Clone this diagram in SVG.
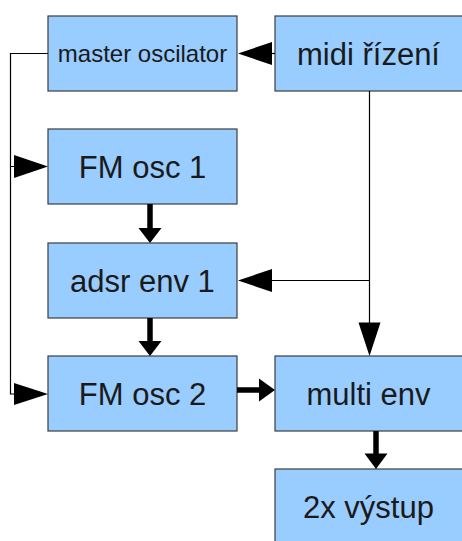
<svg xmlns="http://www.w3.org/2000/svg" width="462" height="541" viewBox="0 0 462 541">
<style>
.box{fill:#99ccff;stroke:#3c3c3c;stroke-width:1.2}
.t{font-family:"Liberation Sans",Arial,sans-serif;font-size:31px;fill:#1a1a1a;text-anchor:middle}
.ts{font-size:24px}
.thin{stroke:#000;stroke-width:1.2;fill:none}
.thick{stroke:#000;stroke-width:5.5;fill:none}
.ah{fill:#000}
</style>
<rect width="462" height="541" fill="#fff"/>
<g id="master"><rect class="box" x="48" y="16" width="189" height="75"/><text class="t ts" x="142.5" y="62">master oscilator</text></g>
<g id="midi"><rect class="box" x="275" y="16" width="190" height="75"/><text class="t" x="368.5" y="65">midi řízení</text></g>
<g id="fm1"><rect class="box" x="48" y="129" width="189" height="75"/><text class="t" x="142.5" y="177.5">FM osc 1</text></g>
<g id="adsr"><rect class="box" x="48" y="243" width="189" height="75"/><text class="t" x="142.5" y="291.5">adsr env 1</text></g>
<g id="fm2"><rect class="box" x="48" y="356" width="189" height="75"/><text class="t" x="142.5" y="404.5">FM osc 2</text></g>
<g id="multi"><rect class="box" x="275" y="356" width="190" height="75"/><text class="t" x="368.5" y="404.5">multi env</text></g>
<g id="out"><rect class="box" x="275" y="469" width="190" height="75"/><text class="t" x="368.5" y="517.5">2x výstup</text></g>
<g id="connectors">
<path class="thin" d="M275 53.5H271"/>
<polygon class="ah" points="238,53.5 272,42 272,65"/>
<path class="thin" d="M48 53.5H10.5V394H14M10.5 166.5H14"/>
<polygon class="ah" points="48,166.5 14,155 14,178"/>
<polygon class="ah" points="48,394 14,383 14,405"/>
<path class="thin" d="M369.5 91V323M369.5 280.5H271"/>
<polygon class="ah" points="238,280.5 272,269 272,292"/>
<polygon class="ah" points="369.5,356 358.5,322.5 380.5,322.5"/>
<path class="thick" d="M150 204V229"/>
<polygon class="ah" points="150,243 138.5,228 161.5,228"/>
<path class="thick" d="M150 318V342"/>
<polygon class="ah" points="150,356 138.5,341 161.5,341"/>
<path class="thick" d="M237 390H260"/>
<polygon class="ah" points="275,390 259,378.5 259,401.5"/>
<path class="thick" d="M376 431V455"/>
<polygon class="ah" points="376,469 364.5,453.5 387.5,453.5"/>
</g>
</svg>
